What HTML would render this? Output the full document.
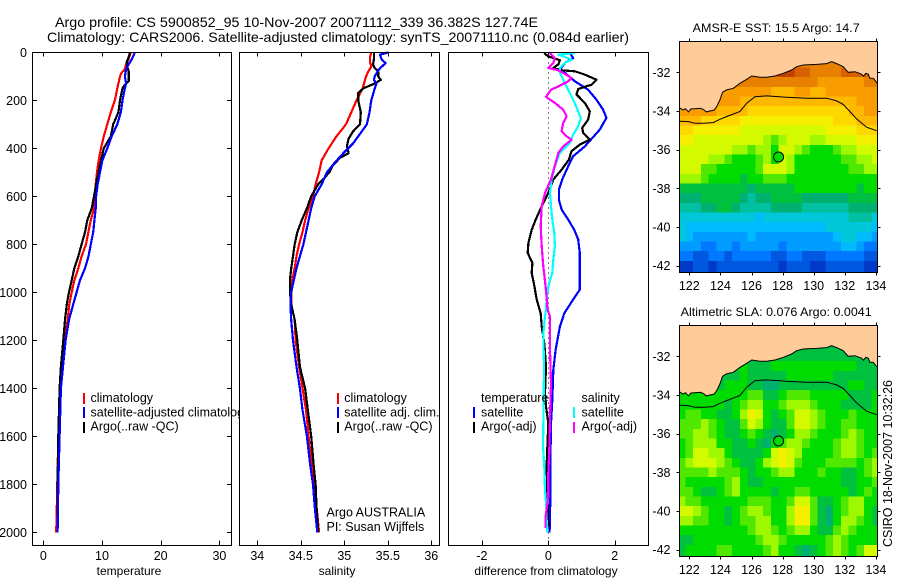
<!DOCTYPE html>
<html>
<head>
<meta charset="utf-8">
<title>Argo profile</title>
<style>
html,body{margin:0;padding:0;background:#fff;}
svg{display:block;}
text{font-family:"Liberation Sans",sans-serif;font-size:12.5px;fill:#000;}
.sm{font-size:12px;}
</style>
</head>
<body>
<svg id="chart" width="900" height="580" viewBox="0 0 900 580" xmlns="http://www.w3.org/2000/svg">
<defs>
<clipPath id="legendClip"><rect x="0" y="0" width="239" height="580"/></clipPath>
<clipPath id="sstClip"><rect x="679" y="41" width="198.5" height="232"/></clipPath>
<clipPath id="slaClip"><rect x="679" y="325" width="198.5" height="232"/></clipPath>
</defs>
<text x="55" y="27" textLength="483" lengthAdjust="spacingAndGlyphs" style="font-size:14px">Argo profile: CS 5900852_95 10-Nov-2007 20071112_339 36.382S 127.74E</text>
<text x="47" y="42" textLength="582" lengthAdjust="spacingAndGlyphs" style="font-size:14px">Climatology: CARS2006. Satellite-adjusted climatology: synTS_20071110.nc (0.084d earlier)</text>
<g id="tempPanel"></g>
<g id="tempLegend" clip-path="url(#legendClip)">
<rect x="83" y="393" width="2" height="11" fill="#f00"/>
<rect x="83" y="407" width="2" height="11" fill="#00f"/>
<rect x="83" y="422" width="2" height="11" fill="#000"/>
<text x="90.5" y="402">climatology</text>
<text x="90.5" y="416.5">satellite-adjusted climatology</text>
<text x="90.5" y="430.5">Argo(..raw -QC)</text>
</g>
<g id="salPanel"></g>
<g id="diffPanel"></g>
<g id="sstMap"></g>
<g id="slaMap"></g>

<text x="129" y="575" text-anchor="middle" class="sm">temperature</text>
<text x="337" y="575" text-anchor="middle" class="sm">salinity</text>
<text x="546" y="575" text-anchor="middle" class="sm">difference from climatology</text>

<g>
<rect x="337" y="393" width="2" height="11" fill="#f00"/>
<rect x="337" y="407" width="2" height="11" fill="#00f"/>
<rect x="337" y="422" width="2" height="11" fill="#000"/>
<text x="344.3" y="402">climatology</text>
<text x="344.3" y="416.5">satellite adj. clim.</text>
<text x="344.3" y="430.5">Argo(..raw -QC)</text>
<text x="326.5" y="516.5">Argo AUSTRALIA</text>
<text x="326.5" y="531">PI: Susan Wijffels</text>
</g>
<g>
<text x="481" y="402">temperature</text>
<rect x="473" y="407" width="2" height="11" fill="#00f"/>
<rect x="473" y="422" width="2" height="11" fill="#000"/>
<text x="481" y="416.5">satellite</text>
<text x="481" y="430.5">Argo(-adj)</text>
<text x="581.5" y="402">salinity</text>
<rect x="573" y="407" width="2" height="11" fill="#0ff"/>
<rect x="573" y="422" width="2" height="11" fill="#f0f"/>
<text x="581.5" y="416.5">satellite</text>
<text x="581.5" y="430.5">Argo(-adj)</text>
</g>
<text x="692.7" y="32" textLength="167" lengthAdjust="spacingAndGlyphs" class="sm">AMSR-E SST: 15.5 Argo: 14.7</text>
<text x="680.7" y="316" textLength="191" lengthAdjust="spacingAndGlyphs" class="sm">Altimetric SLA: 0.076 Argo: 0.0041</text>
<text transform="translate(892,547) rotate(-90)" textLength="167" lengthAdjust="spacingAndGlyphs">CSIRO 18-Nov-2007 10:32:26</text>
</svg>
<script>
/* ---------- Tick labels ---------- */
var depthTicks = [0,200,400,600,800,1000,1200,1400,1600,1800,2000];
var tempTicks = [0,10,20,30];
var salTicks = [34,34.5,35,35.5,36];
var salTickLabels = ['34','34.5','35','35.5','36'];
var diffTicks = [-2,0,2];
var lonTicks = [122,124,126,128,130,132,134];
var latTicks = [32,34,36,38,40,42];

/* ---------- Temperature profiles ---------- */
var climTempDepth = [0,30,50,70,85,100,150,200,250,300,350,400,450,500,550,600,650,700,750,800,850,900,950,1000,1050,1115,1200,1310,1400,1600,1800,1935,2000];
var climTemp = [14.9,14.5,14.1,13.9,13.35,13.07,12.6,12.2,11.5,10.9,10.3,9.83,9.43,9.15,8.92,8.8,8.64,8.1,7.67,7.27,6.53,5.97,5.28,4.83,4.43,4.15,3.58,3.13,2.84,2.56,2.39,2.27,2.2];
var argoTempDepth = [0,20,40,60,80,100,120,135,150,200,250,300,350,400,450,500,550,600,650,700,750,800,850,900,950,1000,1050,1115,1200,1310,1400,1600,1800,2000];
var argoTemp = [14.77,14.55,14.2,14.3,14.55,14.55,14.55,13.9,13.5,13.07,12.8,11.9,11.5,10.3,9.83,9.4,9,8.64,8.24,7.5,7.1,6.53,5.97,5.28,4.83,4.38,4,3.7,3.4,3,2.78,2.56,2.44,2.4];
var satTempDepth = [0,30,50,70,100,130,150,200,250,300,350,400,450,500,550,600,650,700,750,800,850,900,950,1000,1050,1115,1200,1310,1400,1600,1800,2000];
var satTemp = [15.6,15.06,14.55,14.1,13.9,14.1,13.9,13.5,13.2,12.6,11.65,10.9,10.06,9.66,9.26,9,8.92,8.7,8.5,8.1,7.7,7.1,6.25,5.68,5.1,4.38,3.8,3.35,3,2.78,2.56,2.44];

/* ---------- Salinity profiles ---------- */
var climSalDepth = [0,20,40,60,80,100,150,200,250,300,350,400,450,500,550,600,650,700,750,800,850,900,950,1000,1050,1115,1200,1310,1400,1490,1600,1726,1800,1893,2000];
var climSal = [35.31,35.295,35.295,35.31,35.276,35.25,35.21,35.14,35.08,35.02,34.91,34.82,34.74,34.71,34.67,34.64,34.59,34.55,34.52,34.48,34.45,34.43,34.40,34.39,34.39,34.43,34.44,34.48,34.52,34.56,34.59,34.63,34.65,34.68,34.71];
var argoSalDepth = [0,30,50,65,80,100,115,130,150,170,200,250,300,330,360,390,420,440,470,500,550,600,650,700,750,800,850,900,950,1000,1050,1115,1200,1310,1400,1490,1600,1726,1800,1893,2000];
var argoSal = [35.34,35.34,35.33,35.35,35.39,35.39,35.42,35.35,35.22,35.16,35.16,35.19,35.18,35.10,35.05,35.03,35.05,34.95,34.87,34.83,34.70,34.62,34.57,34.51,34.46,34.43,34.41,34.39,34.375,34.375,34.39,34.43,34.46,34.49,34.55,34.58,34.62,34.65,34.67,34.68,34.70];
var satSalDepth = [0,10,30,45,60,75,100,115,130,150,200,250,300,340,380,420,460,500,550,600,650,700,750,800,850,900,950,1000,1050,1115,1200,1310,1400,1490,1600,1726,1800,1893,2000];
var satSal = [35.51,35.41,35.43,35.475,35.43,35.39,35.35,35.34,35.37,35.35,35.31,35.29,35.26,35.18,35.10,34.99,34.89,34.80,34.74,34.66,34.62,34.59,34.56,34.53,34.49,34.45,34.42,34.39,34.38,34.39,34.41,34.45,34.49,34.52,34.57,34.61,34.64,34.66,34.69];

/* ---------- Differences from climatology ---------- */
var diffTempSatDepth = [3,24,44,72,86,121,156,197,239,273,322,364,392,433,475,530,572,614,655,697,739,780,836,919,989,1030,1072,1088,1143,1240,1324,1449,1546,1726,1865,2000];
var diffTempSat = [0.65,0.75,0.5,0.35,0.5,0.8,1.2,1.45,1.65,1.75,1.55,1.28,1.1,0.75,0.6,0.42,0.32,0.32,0.4,0.6,0.78,0.9,0.95,0.95,0.95,0.75,0.55,0.48,0.35,0.22,0.15,0.12,0.08,0.06,0.06,0.04];
var diffTempArgoDepth = [3,17,33,51,65,75,79,93,114,135,153,176,211,246,281,315,336,364,385,412,447,489,530,586,642,697,739,794,836,878,919,975,1030,1088,1143,1213,1310,1421,1476,1546,1726,1976];
var diffTempArgo = [-0.13,0,0.35,0.3,0.15,0.4,0.8,1.1,1.45,1.3,0.9,0.85,1.1,1.25,1.2,1.02,1.05,1.25,0.95,0.7,0.62,0.4,0.15,0,-0.2,-0.38,-0.5,-0.6,-0.62,-0.48,-0.5,-0.42,-0.35,-0.23,-0.2,-0.12,-0.07,-0.1,-0.07,0,-0.05,0];
var diffSalSatDepth = [3,10,19,31,44,65,86,114,156,197,239,274,308,343,378,419,475,530,586,642,697,753,808,864,919,975,1030,1072,1101,1171,1310,1449,1643,1726,1824,1893,2000];
var diffSalSat = [0.8,0.3,0.5,0.7,0.5,0.35,0.35,0.45,0.6,0.75,0.88,0.98,0.9,0.75,0.65,0.35,0.2,0.1,0.05,0.08,0.12,0.18,0.2,0.15,0.12,0,-0.05,-0.07,-0.1,-0.15,-0.13,-0.14,-0.16,-0.12,-0.1,-0.06,-0.04];
var diffSalArgoDepth = [3,24,44,65,75,86,107,121,142,156,186,211,239,267,294,329,350,364,392,419,461,530,586,642,725,808,892,975,1072,1101,1240,1379,1518,1657,1754,1851,1935,1983];
var diffSalArgo = [0.05,0.2,0.15,0,0.3,0.45,0.7,0.6,0.3,0.08,-0.07,0.2,0.45,0.55,0.45,0.4,0.55,0.7,0.45,0.3,0.22,0.08,-0.1,-0.2,-0.23,-0.2,-0.15,-0.08,-0.02,0.05,0.05,0.08,0.05,0.03,0,0,-0.08,-0.08];

/* ---------- Map grids ---------- */
var mapLons = [121.5,122,122.5,123,123.5,124,124.5,125,125.5,126,126.5,127,127.5,128,128.5,129,129.5,130,130.5,131,131.5,132,132.5,133,133.5,134];
var mapLats = [31.5,32,32.5,33,33.5,34,34.5,35,35.5,36,36.5,37,37.5,38,38.5,39,39.5,40,40.5,41,41.5,42,42.5];
var sstGrid = [
[17,17,17,17,17,17,17,17,17,17,17,17,17,17,17,17,17,17,17,17,17,17,17,17,17,17],
[17,17,17,17,17,17,17,17,17,17,18,18,18,19,19,18,18,17,17,17,17,18,18,18,18,19],
[17,17,17,17,17,17,17,17,17,17,17,17,17,17,17,17,17,17,16,16,16,16,16,16,17,17],
[16,16,16,16,16,16,16,16,16,16,16,16,15,15,15,16,16,15,15,16,16,16,16,16,16,16],
[16,16,16,16,16,16,16,16,15,15,15,15,15,15,15,15,15,15,15,15,15,15,15,16,16,16],
[16,16,16,16,16,15,15,15,15,14,14,14,14,14,14,14,14,14,14,14,14,14,15,15,16,16],
[15,15,15,14,14,14,14,14,13,13,13,13,13,13,13,13,13,13,13,13,14,14,14,15,15,15],
[14,14,13,13,13,13,13,13,12,12,12,12,12,12,12,12,12,12,12,13,13,13,13,14,14,14],
[13,13,12,12,12,12,12,12,12,12,12,11,10,11,12,12,12,11,11,12,12,12,12,13,13,13],
[12,12,12,12,12,12,12,11,11,10,11,11,9,12,12,11,10,9,9,9,10,11,11,12,12,12],
[12,12,12,12,11,11,10,9,9,9,10,11,9,12,11,9,9,9,9,9,9,10,10,11,11,12],
[12,12,12,10,10,9,9,9,9,9,10,12,12,12,11,9,9,9,9,9,9,9,10,10,11,11],
[11,11,11,10,9,9,9,9,8,9,9,10,10,10,9,9,9,9,9,9,9,9,9,9,9,9],
[8,8,8,8,8,8,8,8,8,7,8,8,8,8,8,9,9,9,9,9,9,9,9,8,9,9],
[7,7,7,8,8,8,8,8,7,6,7,7,8,8,8,8,7,7,7,7,7,7,8,8,8,8],
[6,6,6,7,7,8,8,7,6,6,6,6,7,7,7,7,6,6,6,6,6,6,7,7,7,7],
[5,5,5,5,5,5,5,5,5,5,4,5,5,5,5,5,5,5,5,5,5,5,6,6,6,5],
[5,4,4,4,4,4,4,4,4,4,4,4,4,4,4,4,4,4,4,5,5,5,5,5,5,4],
[5,4,3,3,3,3,3,3,3,4,3,3,3,3,3,3,3,3,3,3,4,5,5,4,4,3],
[3,3,3,2,2,3,3,2,3,3,3,3,3,2,3,3,3,3,3,3,3,4,4,3,2,2],
[2,2,1,1,2,2,1,2,2,2,2,2,1,1,2,2,1,1,1,2,2,2,2,2,1,1],
[0,0,1,1,0,1,1,1,1,1,1,1,1,0,1,1,1,0,0,1,1,1,1,1,0,0],
[0,0,1,1,0,1,1,1,1,1,1,1,1,0,1,1,1,0,0,1,1,1,1,1,0,0]
];
var slaGrid = [
[8,8,8,8,8,8,8,8,8,8,8,8,8,8,8,8,8,8,8,8,8,8,8,8,8,8],
[8,8,8,8,8,8,8,8,8,8,8,8,8,8,8,8,8,8,8,8,8,8,8,8,8,8],
[8,8,8,8,8,8,8,9,9,8,8,8,9,9,9,9,9,9,9,9,9,9,9,8,8,8],
[8,8,8,8,8,8,8,8,9,8,8,8,8,8,9,9,9,9,9,9,8,8,8,8,8,8],
[8,8,8,8,8,8,9,9,9,8,8,7,7,8,8,8,8,8,8,8,8,8,9,9,8,8],
[9,9,9,9,9,9,9,9,9,10,10,8,8,9,10,10,10,9,9,9,9,9,8,8,8,9],
[9,9,9,9,9,9,8,9,10,11,11,9,9,10,11,11,11,10,9,9,9,8,8,8,8,9],
[9,10,10,9,9,8,8,9,11,13,12,9,8,9,10,12,12,11,10,9,9,9,10,9,9,9],
[10,10,10,11,10,9,8,8,10,12,11,9,8,8,10,12,12,11,10,9,9,10,10,9,9,9],
[10,10,11,11,10,9,8,8,9,10,9,8,7,8,9,11,11,10,9,9,9,10,11,10,9,9],
[9,10,11,11,11,9,9,8,8,9,8,7,9,10,11,11,10,9,9,9,10,11,11,10,9,9],
[9,10,12,12,11,11,9,8,8,8,8,9,12,13,12,11,9,9,9,9,10,11,11,10,9,10],
[10,11,12,12,12,11,10,9,8,8,9,11,12,13,12,10,9,9,9,10,10,10,10,9,10,11],
[10,10,10,10,11,10,10,10,9,8,9,9,10,11,11,9,9,9,10,9,9,8,8,9,10,11],
[10,9,9,9,9,9,10,11,9,8,8,9,9,9,9,9,9,9,9,9,9,8,8,9,9,10],
[10,10,9,8,8,9,10,11,9,9,9,9,8,9,9,10,10,9,9,9,9,9,8,9,10,9],
[11,10,10,9,9,9,9,9,9,10,10,10,9,9,10,12,12,10,8,8,9,10,11,11,9,9],
[12,12,11,10,9,9,8,9,10,11,11,10,9,9,11,13,13,10,8,7,9,10,11,11,9,8],
[11,11,10,10,9,9,8,9,10,10,11,11,9,9,11,13,13,10,8,7,9,11,11,10,9,8],
[9,9,9,9,9,9,9,9,9,10,11,11,10,9,10,11,11,9,8,8,10,11,10,9,9,9],
[8,8,9,9,9,9,9,9,9,9,10,11,11,10,9,9,9,9,9,10,11,10,9,9,9,9],
[8,9,9,9,9,10,10,9,9,9,9,10,11,9,9,8,7,8,9,10,11,10,9,10,12,12],
[8,9,9,9,9,10,10,9,9,9,9,10,11,9,9,8,7,8,9,10,11,10,9,10,12,12]
];
var levelColors = ['#0038c8','#0058e0','#0078ff','#009cff','#00bcff','#00c8d8','#00c0a0','#00b070','#00c040','#00dc00','#50e800','#a0f800','#d4fa00','#f4f000','#ffd800','#ffb800','#f89c00','#e88000','#d86000','#c04000'];
var coastLon = [121.36,121.6,121.75,121.94,122.1,122.47,122.7,122.9,123.1,123.33,123.6,123.76,123.97,124.14,124.4,124.83,125.26,125.69,126.01,126.54,126.97,127.51,128.05,128.58,128.9,129.33,130.19,130.83,131.15,131.47,131.9,132.22,132.65,133.08,133.2,133.35,133.51,133.6,133.83,134.09];
var coastLat = [33.83,33.95,33.88,34.05,33.9,33.88,33.86,33.92,34.05,34,33.95,33.78,33.43,33.03,32.91,32.83,32.57,32.36,32.19,32.26,32.26,32.19,32.05,31.88,31.71,31.62,31.59,31.55,31.45,31.55,31.71,32,31.97,32.1,32.2,32.05,32.1,32.3,32.31,32.57];
var isobathLon = [121.36,121.94,122.36,122.9,123.54,123.97,124.4,125.26,125.69,126.22,126.97,128.26,129.55,130.83,131.47,131.9,132.33,132.76,133.4,134.05];
var isobathLat = [34.53,34.55,34.64,34.64,34.6,34.43,34.29,34.03,33.6,33.26,33.22,33.29,33.34,33.34,33.48,33.66,34.03,34.41,34.84,35.02];
var floatLon = [127.74];
var floatLat = [36.382];
var floatLevels = [9,9];

/* ---------- Axis functions ---------- */
function yDepth(d){return 52.3+0.24*d;}
function xTemp(v){return 43.3+5.87*v;}
function xSal(v){return 257.3+87*(v-34);}
function xDiff(v){return 548.3+33.2*v;}
function xLon(lon){return 689.3+15.55*(lon-122);}
function yLat(lat,top){return top+31.3+19.33*(lat-32);}

var NS='http://www.w3.org/2000/svg';
function make(parent,tag){var el=document.createElementNS(NS,tag);parent.appendChild(el);return el;}
function crispLine(parent,x1,y1,x2,y2){
  var l=make(parent,'line');
  l.setAttribute('x1',x1);l.setAttribute('y1',y1);l.setAttribute('x2',x2);l.setAttribute('y2',y2);
  l.setAttribute('stroke','#000');l.setAttribute('stroke-width','1');l.setAttribute('shape-rendering','crispEdges');
  return l;
}
function frame(parent,x,y,w,h){
  var r=make(parent,'rect');
  r.setAttribute('x',x);r.setAttribute('y',y);r.setAttribute('width',w);r.setAttribute('height',h);
  r.setAttribute('fill','none');r.setAttribute('stroke','#000');r.setAttribute('stroke-width','1');r.setAttribute('shape-rendering','crispEdges');
  
  
}
function series(parent,depths,vals,xf,color,name){
  var pts=[];
  for(var i=0;i<vals.length;i++){pts.push(xf(vals[i]).toFixed(1)+','+yDepth(depths[i]).toFixed(1));}
  var p=make(parent,'polyline');
  p.setAttribute('points',pts.join(' '));
  p.setAttribute('fill','none');p.setAttribute('stroke',color);p.setAttribute('stroke-width','2.2');
  p.setAttribute('stroke-linejoin','round');p.setAttribute('shape-rendering','crispEdges');
  
  
}
function profileAxes(parent,left,right,ticks,labels,xf){
  var top=52.5,bottom=545.5;
  for(var i=0;i<ticks.length;i++){
    var x=Math.round(xf(ticks[i]))+0.5;
    var t1=crispLine(parent,x,top,x,top+4);
    
    
    var t2=crispLine(parent,x,bottom,x,bottom-5);
    
    
    var tx=make(parent,'text');
    tx.setAttribute('x',xf(ticks[i]));tx.setAttribute('y',560);tx.setAttribute('text-anchor','middle');
    tx.textContent=labels[i];
    
    
  }
  frame(parent,left,top,right-left,bottom-top);
}

/* ---------- Temperature panel ---------- */
var tempG=document.getElementById('tempPanel');
series(tempG,climTempDepth,climTemp,xTemp,'#f00','temperature-climatology-line');
series(tempG,argoTempDepth,argoTemp,xTemp,'#000','temperature-argo-line');
series(tempG,satTempDepth,satTemp,xTemp,'#00f','temperature-satellite-line');
profileAxes(tempG,32.5,231.5,tempTicks,tempTicks.map(String),xTemp);
for(var i=0;i<depthTicks.length;i++){
  var dy=Math.round(yDepth(depthTicks[i]))+0.5;
  var tl=crispLine(tempG,32.5,dy,37,dy);
  
  
  var tr=crispLine(tempG,231.5,dy,227,dy);
  
  
  var lb=make(tempG,'text');
  lb.setAttribute('x',27);lb.setAttribute('y',yDepth(depthTicks[i])+4.5);lb.setAttribute('text-anchor','end');
  lb.textContent=depthTicks[i];
  
  
}

/* ---------- Salinity panel ---------- */
var salG=document.getElementById('salPanel');
series(salG,climSalDepth,climSal,xSal,'#f00','salinity-climatology-line');
series(salG,argoSalDepth,argoSal,xSal,'#000','salinity-argo-line');
series(salG,satSalDepth,satSal,xSal,'#00f','salinity-satellite-line');
profileAxes(salG,239.5,439.5,salTicks,salTickLabels,xSal);

/* ---------- Difference panel ---------- */
var diffG=document.getElementById('diffPanel');
var zero=make(diffG,'line');
zero.setAttribute('x1',xDiff(0));zero.setAttribute('x2',xDiff(0));zero.setAttribute('y1',52.5);zero.setAttribute('y2',545.5);
zero.setAttribute('stroke','#000');zero.setAttribute('stroke-width','1');zero.setAttribute('stroke-dasharray','1 4');zero.setAttribute('shape-rendering','crispEdges');


series(diffG,diffTempSatDepth,diffTempSat,xDiff,'#00f','difference-temp-satellite-line');
series(diffG,diffTempArgoDepth,diffTempArgo,xDiff,'#000','difference-temp-argo-line');
series(diffG,diffSalSatDepth,diffSalSat,xDiff,'#0ff','difference-sal-satellite-line');
series(diffG,diffSalArgoDepth,diffSalArgo,xDiff,'#f0f','difference-sal-argo-line');
profileAxes(diffG,448.5,648.5,diffTicks,diffTicks.map(String),xDiff);

/* ---------- Maps ---------- */
function drawMap(g,grid,top,clipId,floatColor){
  var cells=make(g,'g');
  cells.setAttribute('clip-path','url(#'+clipId+')');
  
  
  for(var r=0;r<grid.length;r++){
    for(var c=0;c<grid[r].length;c++){
      var cell=make(cells,'rect');
      var x0=xLon(mapLons[c]-0.25),x1=xLon(mapLons[c]+0.25);
      var y0=yLat(mapLats[r]-0.25,top),y1=yLat(mapLats[r]+0.25,top);
      cell.setAttribute('x',x0.toFixed(1));cell.setAttribute('y',y0.toFixed(1));
      cell.setAttribute('width',(x1-x0+0.5).toFixed(1));cell.setAttribute('height',(y1-y0+0.5).toFixed(1));
      cell.setAttribute('fill',levelColors[grid[r][c]]);
      cell.setAttribute('shape-rendering','crispEdges');
      
      
    }
  }
  var overlay=make(g,'g');
  overlay.setAttribute('clip-path','url(#'+clipId+')');
  
  
  var pts=[];
  for(var i=0;i<coastLon.length;i++){pts.push(xLon(coastLon[i]).toFixed(1)+','+yLat(coastLat[i],top).toFixed(1));}
  var land=make(overlay,'polygon');
  land.setAttribute('points',pts.join(' ')+' 878,'+top+' 679,'+top);
  land.setAttribute('fill','#ffcc99');
  
  
  var coast=make(overlay,'polyline');
  coast.setAttribute('points',pts.join(' '));
  coast.setAttribute('fill','none');coast.setAttribute('stroke','#000');coast.setAttribute('stroke-width','1');
  
  
  var ip=[];
  for(var j=0;j<isobathLon.length;j++){ip.push(xLon(isobathLon[j]).toFixed(1)+','+yLat(isobathLat[j],top).toFixed(1));}
  var iso=make(overlay,'polyline');
  iso.setAttribute('points',ip.join(' '));
  iso.setAttribute('fill','none');iso.setAttribute('stroke','#000');iso.setAttribute('stroke-width','1');
  
  
  var dot=make(g,'circle');
  dot.setAttribute('cx',xLon(floatLon[0]).toFixed(1));dot.setAttribute('cy',yLat(floatLat[0],top).toFixed(1));dot.setAttribute('r','5');
  dot.setAttribute('fill',floatColor);dot.setAttribute('stroke','#000');dot.setAttribute('stroke-width','1');
  
  
  var left=679.5,right=877.5,bottom=top+231.5,fr=top+0.5;
  frame(g,left,fr,right-left,bottom-fr);
  for(var a=0;a<lonTicks.length;a++){
    var xt=Math.round(xLon(lonTicks[a]))+0.5;
    var t1=crispLine(g,xt,fr,xt,fr-3);
    
    
    var t2=crispLine(g,xt,bottom,xt,bottom+3);
    
    
    var lb=make(g,'text');
    lb.setAttribute('x',xLon(lonTicks[a]));lb.setAttribute('y',bottom+17.5);lb.setAttribute('text-anchor','middle');
    lb.textContent=lonTicks[a];
    
    
  }
  for(var b=0;b<latTicks.length;b++){
    var yt=Math.round(yLat(latTicks[b],top))+0.5;
    var l1=crispLine(g,left,yt,left-3,yt);
    
    
    var l2=crispLine(g,right,yt,right+3,yt);
    
    
    var ll=make(g,'text');
    ll.setAttribute('x',670.5);ll.setAttribute('y',yLat(latTicks[b],top)+4.5);ll.setAttribute('text-anchor','end');
    ll.textContent='-'+latTicks[b];
    
    
  }
}
drawMap(document.getElementById('sstMap'),sstGrid,41,'sstClip',levelColors[floatLevels[0]]);
drawMap(document.getElementById('slaMap'),slaGrid,325,'slaClip',levelColors[floatLevels[1]]);
</script>
</body>
</html>
